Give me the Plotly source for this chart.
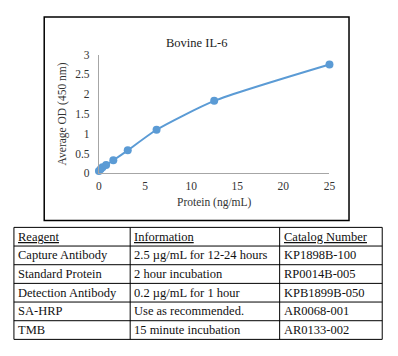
import plotly.graph_objects as go

# page body has an 8px margin; figure is drawn inside it
OFF = 8
W, H = 398 - OFF, 356 - OFF

# ---- data ----
protein = [0, 0.195, 0.39, 0.78, 1.56, 3.125, 6.25, 12.5, 25]
avg_od = [0.06, 0.11, 0.15, 0.21, 0.33, 0.58, 1.10, 1.83, 2.75]

title = "Bovine IL-6"
x_title = "Protein (ng/mL)"
y_title = "Average OD (450 nm)"

table_header = ["Reagent", "Information", "Catalog Number"]
col_reagent = ["Capture Antibody", "Standard Protein", "Detection Antibody", "SA-HRP", "TMB"]
col_info = ["2.5 µg/mL for 12-24 hours", "2 hour incubation", "0.2 µg/mL for 1 hour",
            "Use as recommended.", "15 minute incubation"]
col_catalog = ["KP1898B-100", "RP0014B-005", "KPB1899B-050", "AR0068-001", "AR0133-002"]

FONT = "Liberation Serif"
BLUE = "#5B9BD5"


def px(x):
    return (x - OFF) / W


def py(y):
    return 1 - (y - OFF) / H


fig = go.Figure()
fig.add_trace(go.Scatter(
    x=protein, y=avg_od, mode="lines+markers",
    line=dict(color=BLUE, width=2, shape="spline", smoothing=0.6),
    marker=dict(color=BLUE, size=8),
    cliponaxis=False, showlegend=False,
))

shapes = []
annotations = []

# chart border box
shapes.append(dict(type="rect", xref="paper", yref="paper",
                   x0=px(42), x1=px(354), y0=py(222), y1=py(11),
                   line=dict(color="black", width=1.5)))

annotations.append(dict(text=title, x=px(198), y=py(29), xref="paper", yref="paper",
                        showarrow=False, font=dict(family=FONT, size=12.5, color="#222")))

# table
col_x = [11, 130, 283, 388]
top, bottom = 229, 345
nrows = 6
rh = (bottom - top) / nrows
row_y = [top + i * rh for i in range(nrows + 1)]
shapes.append(dict(type="rect", xref="paper", yref="paper",
                   x0=px(col_x[0]), x1=px(col_x[-1]), y0=py(bottom), y1=py(top),
                   line=dict(color="black", width=1)))
for cx in col_x[1:-1]:
    shapes.append(dict(type="line", xref="paper", yref="paper",
                       x0=px(cx), x1=px(cx), y0=py(bottom), y1=py(top),
                       line=dict(color="black", width=1)))
for ry in row_y[1:-1]:
    shapes.append(dict(type="line", xref="paper", yref="paper",
                       x0=px(col_x[0]), x1=px(col_x[-1]), y0=py(ry), y1=py(ry),
                       line=dict(color="black", width=1)))

cols = [col_reagent, col_info, col_catalog]
for c in range(3):
    cells = ["<span style='text-decoration:underline'>%s</span>" % table_header[c]] + cols[c]
    for r, txt in enumerate(cells):
        yc = (row_y[r] + row_y[r + 1]) / 2
        annotations.append(dict(text=txt, x=px(col_x[c] + 2), y=py(yc),
                                xref="paper", yref="paper", xanchor="left", yanchor="middle",
                                showarrow=False,
                                font=dict(family=FONT, size=12.5, color="#111")))

fig.update_layout(
    width=W, height=H,
    margin=dict(l=0, r=0, t=0, b=0),
    paper_bgcolor="white", plot_bgcolor="white",
    shapes=shapes, annotations=annotations,
    font=dict(family=FONT, size=11.5, color="#333"),
    xaxis=dict(domain=[px(98), px(334)], range=[0, 25], dtick=5,
               showline=True, linecolor="#A6A6A6", linewidth=1, showgrid=False,
               zeroline=False, ticks="", fixedrange=True, ticklabelstandoff=2,
               title=dict(text=x_title, font=dict(family=FONT, size=11.5, color="#333"), standoff=6),
               tickfont=dict(family=FONT, size=11.5, color="#333")),
    yaxis=dict(domain=[py(173), py(50)], range=[0, 3], dtick=0.5,
               showline=True, linecolor="#A6A6A6", linewidth=1, showgrid=False,
               zeroline=False, ticks="", fixedrange=True, ticklabelstandoff=6,
               title=dict(text=y_title, font=dict(family=FONT, size=11.5, color="#333"), standoff=6),
               tickfont=dict(family=FONT, size=11.5, color="#333")),
)

fig.write_html("out.html")
